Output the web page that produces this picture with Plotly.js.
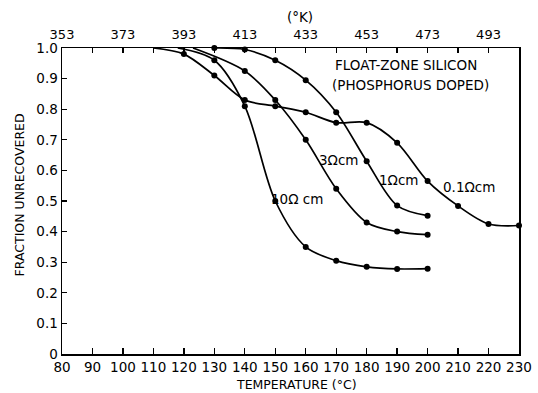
<!DOCTYPE html>
<html>
<head>
<meta charset="utf-8">
<script src="https://cdn.plot.ly/plotly-3.0.1.min.js"></script>
<style>html,body{margin:0;padding:0;background:#fff;}#chart{width:538px;height:393px;}</style>
</head>
<body>
<div id="chart"></div>
<script>
// Temperature (°C) and fraction unrecovered for each resistivity
const t10 = [118, 130, 140, 150, 160, 170, 180, 190, 200];
const v10 = [1.0, 0.96, 0.81, 0.50, 0.35, 0.305, 0.285, 0.278, 0.279];
const m10 = [false, true, true, true, true, true, true, true, true];

const t3 = [123, 140, 150, 160, 170, 180, 190, 200];
const v3 = [1.0, 0.925, 0.83, 0.70, 0.54, 0.43, 0.40, 0.39];
const m3 = [false, true, true, true, true, true, true, true];

const t1 = [130, 140, 150, 160, 170, 180, 190, 200];
const v1 = [1.0, 0.995, 0.96, 0.895, 0.79, 0.63, 0.485, 0.452];
const m1 = [true, true, true, true, true, true, true, true];

const t01 = [110, 120, 130, 140, 150, 160, 170, 180, 190, 200, 210, 220, 230];
const v01 = [1.0, 0.98, 0.91, 0.83, 0.81, 0.79, 0.756, 0.756, 0.69, 0.565, 0.484, 0.425, 0.42];
const m01 = [false, true, true, true, true, true, true, true, true, true, true, true, true];

const xTicks = [80, 90, 100, 110, 120, 130, 140, 150, 160, 170, 180, 190, 200, 210, 220, 230];
const yTicks = [0, 0.1, 0.2, 0.3, 0.4, 0.5, 0.6, 0.7, 0.8, 0.9, 1.0];
const yLabels = ["0", "0.1", "0.2", "0.3", "0.4", "0.5", "0.6", "0.7", "0.8", "0.9", "1.0"];
const kTicks = [353, 373, 393, 413, 433, 453, 473, 493];

const FONT = "DejaVu Sans, sans-serif";
const TFONT = {family: FONT, size: 13.5, color: "#000"};

function series(t, v, m) {
  return [
    {x: t, y: v, mode: "lines", type: "scatter",
     line: {color: "#000", width: 1.7, shape: "spline", smoothing: 0.9},
     hoverinfo: "skip", showlegend: false, cliponaxis: false},
    {x: t.filter((_, i) => m[i]), y: v.filter((_, i) => m[i]), mode: "markers", type: "scatter",
     marker: {color: "#000", size: 6}, showlegend: false, cliponaxis: false}
  ];
}

const data = [].concat(series(t10, v10, m10), series(t3, v3, m3), series(t1, v1, m1), series(t01, v01, m01));
// invisible trace to activate the top Kelvin axis
data.push({x: [353, 503], y: [0, 0], xaxis: "x2", mode: "markers", marker: {opacity: 0}, showlegend: false, hoverinfo: "skip"});

const ann = (x, y, text, size, xref, yref) => ({x, y, text, xref: xref || "x", yref: yref || "y",
  xanchor: "center", yanchor: "middle",
  showarrow: false, font: {family: FONT, size: size || 13, color: "#000"}});

const layout = {
  width: 538, height: 393,
  margin: {l: 62, r: 19, t: 48, b: 39},
  paper_bgcolor: "#fff", plot_bgcolor: "#fff",
  font: {family: FONT, color: "#000"},
  xaxis: {range: [80, 230], tickvals: xTicks, ticktext: xTicks.map(String),
    ticks: "inside", ticklen: 6, tickwidth: 1.3, tickcolor: "#000",
    showline: true, linecolor: "#000", linewidth: 1.5, mirror: false,
    showgrid: false, zeroline: false, tickfont: TFONT},
  xaxis2: {range: [353, 503], overlaying: "x", side: "top", anchor: "y",
    tickvals: kTicks, ticktext: kTicks.map(String),
    ticks: "inside", ticklen: 5, tickwidth: 1.3, tickcolor: "#000",
    ticklabelstandoff: 2,
    minor: {dtick: 10, tick0: 353, ticks: "inside", ticklen: 5, tickwidth: 1.3, tickcolor: "#000"},
    showline: true, linecolor: "#000", linewidth: 1.5,
    showgrid: false, zeroline: false, tickfont: {family: FONT, size: 13, color: "#000"}},
  yaxis: {range: [0, 1.0], tickvals: yTicks, ticktext: yLabels,
    ticks: "inside", ticklen: 5, tickwidth: 1.3, tickcolor: "#000",
    showline: true, linecolor: "#000", linewidth: 1.5, mirror: true,
    showgrid: false, zeroline: false, tickfont: TFONT},
  annotations: [
    ann(192.8, 0.944, "FLOAT-ZONE SILICON", 13.5),
    ann(194.5, 0.879, "(PHOSPHORUS DOPED)", 13.5),
    ann(170.6, 0.634, "3Ωcm", 13.5),
    ann(190.3, 0.569, "1Ωcm", 13.5),
    ann(213.5, 0.546, "0.1Ωcm", 13.5),
    ann(157, 0.505, "10Ω cm", 13.5),
    ann(0.52, 1.102, "(°K)", 13.5, "paper", "paper"),
    ann(0.514, -0.101, "TEMPERATURE (°C)", 12.5, "paper", "paper"),
    Object.assign(ann(-0.093, 0.52, "FRACTION UNRECOVERED", 12.5, "paper", "paper"), {textangle: -90})
  ]
};

Plotly.newPlot("chart", data, layout, {staticPlot: true, displayModeBar: false});
</script>
</body>
</html>
